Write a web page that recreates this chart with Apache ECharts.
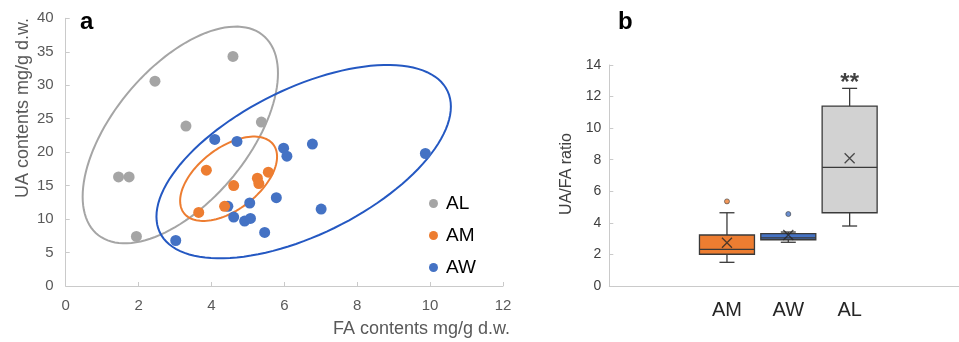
<!DOCTYPE html>
<html>
<head>
<meta charset="utf-8">
<script src="https://cdn.jsdelivr.net/npm/echarts@6/dist/echarts.min.js"></script>
<style>
	html, body { margin: 0; padding: 0; background: #fff; }
	#chart { width: 959px; height: 342px; }
</style>
</head>
<body>
<div id="chart"></div>
<script>
// a: FA / UA contents per group (x = FA, y = UA)
var alPoints = [[4.59, 34.3], [2.45, 30.6], [3.30, 23.9], [5.37, 24.5], [1.45, 16.3], [1.74, 16.3], [1.94, 7.4]];
var amPoints = [[3.86, 17.3], [4.61, 15.0], [5.26, 16.1], [5.30, 15.3], [5.56, 17.0], [4.36, 11.9], [3.65, 11.0]];
var awPoints = [[4.09, 21.9], [4.70, 21.6], [5.98, 20.6], [6.07, 19.4], [6.77, 21.2], [9.87, 19.8], [5.78, 13.2],
	[7.01, 11.5], [5.05, 12.4], [4.45, 11.9], [4.61, 10.3], [4.91, 9.7], [5.07, 10.1], [5.46, 8.0], [3.02, 6.8]];

// ellipses: centre x, centre y, axis u (x, y), axis v (y only)
var alEllipse = [3.145, 22.57, 2.68, 9.22, 13.31];
var amEllipse = [4.47, 16.02, 1.33, 3.30, 5.37];
var awEllipse = [6.53, 18.58, 4.04, 8.22, 11.88];

// b: UA/FA ratio box plots
var boxCategories = ['AM', 'AW', 'AL'];
var boxValues = [ // min, Q1, median, Q3, max
	[1.50, 2.01, 2.32, 3.23, 4.64],
	[2.77, 2.93, 3.05, 3.32, 3.42],
	[3.80, 4.64, 7.52, 11.40, 12.52]
];
var boxMeans = [2.74, 3.23, 8.09];
var boxOutliers = [[0, 5.36], [1, 4.56]];
var starMark = [[2, 13.2]];

var cGray = '#A5A5A5', cOrange = '#ED7D31', cBlue = '#4472C4';
var boxFill = [cOrange, cBlue, '#D2D2D2'];
var outlierColor = [cOrange, cBlue];

function renderEllipse(params, api) {
	var cx = api.value(0), cy = api.value(1), ux = api.value(2), uy = api.value(3), vy = api.value(4);
	var pts = [];
	for (var i = 0; i < 120; i++) {
		var t = i / 120 * Math.PI * 2;
		pts.push(api.coord([cx + ux * Math.cos(t), cy + uy * Math.cos(t) + vy * Math.sin(t)]));
	}
	return {
		type: 'polygon',
		shape: { points: pts },
		style: { fill: 'none', stroke: api.visual('color'), lineWidth: 2 }
	};
}

function renderBox(params, api) {
	var idx = api.value(0);
	var lo = api.coord([idx, api.value(1)]);
	var q1 = api.coord([idx, api.value(2)]);
	var md = api.coord([idx, api.value(3)]);
	var q3 = api.coord([idx, api.value(4)]);
	var hi = api.coord([idx, api.value(5)]);
	var x = lo[0], hw = 27.5, cw = 7.5;
	var line = { stroke: '#3a3a3a', lineWidth: 1.3 };
	return {
		type: 'group',
		children: [
			{ type: 'line', shape: { x1: x, y1: hi[1], x2: x, y2: q3[1] }, style: line },
			{ type: 'line', shape: { x1: x, y1: lo[1], x2: x, y2: q1[1] }, style: line },
			{ type: 'line', shape: { x1: x - cw, y1: hi[1], x2: x + cw, y2: hi[1] }, style: line },
			{ type: 'line', shape: { x1: x - cw, y1: lo[1], x2: x + cw, y2: lo[1] }, style: line },
			{ type: 'rect', shape: { x: x - hw, y: q3[1], width: hw * 2, height: q1[1] - q3[1] },
				style: { fill: boxFill[idx], stroke: '#3a3a3a', lineWidth: 1.3 } },
			{ type: 'line', shape: { x1: x - hw, y1: md[1], x2: x + hw, y2: md[1] }, style: line }
		]
	};
}

var boxData = [];
for (var i = 0; i < boxValues.length; i++) {
	boxData.push([i].concat(boxValues[i]));
}
var meanData = [];
for (var j = 0; j < boxMeans.length; j++) {
	meanData.push([j, boxMeans[j]]);
}

var axisGray = '#CACACA';
var chart = echarts.init(document.getElementById('chart'));
chart.setOption({
	animation: false,
	textStyle: { fontFamily: 'Liberation Sans, Arial, sans-serif' },
	grid: [
		{ left: 65.7, width: 437.3, top: 18.3, bottom: 56 },
		{ left: 609.3, right: 0, top: 65, bottom: 56 },
		{ left: 696.3, width: 184, top: 65, bottom: 56 }
	],
	xAxis: [{
		gridIndex: 0, type: 'value', min: 0, max: 12, interval: 2,
		axisLine: { lineStyle: { color: axisGray } },
		axisTick: { inside: true, length: 4, lineStyle: { color: axisGray } },
		axisLabel: { fontSize: 15, color: '#595959', margin: 12 },
		splitLine: { show: false }
	}, {
		gridIndex: 1, type: 'value', min: 0, max: 1,
		axisLine: { lineStyle: { color: axisGray } },
		axisTick: { show: false }, axisLabel: { show: false }, splitLine: { show: false }
	}, {
		gridIndex: 2, type: 'category', data: boxCategories,
		axisLine: { show: false }, axisTick: { show: false },
		axisLabel: { fontSize: 20, color: '#262626', margin: 14 }
	}],
	yAxis: [{
		gridIndex: 0, type: 'value', min: 0, max: 40, interval: 5,
		axisLine: { show: true, lineStyle: { color: axisGray } },
		axisTick: { show: true, inside: true, length: 4, lineStyle: { color: axisGray } },
		axisLabel: { fontSize: 15, color: '#595959', margin: 12 },
		splitLine: { show: false }
	}, {
		gridIndex: 1, type: 'value', min: 0, max: 14, interval: 2,
		axisLine: { show: true, lineStyle: { color: axisGray } },
		axisTick: { show: true, inside: true, length: 4, lineStyle: { color: axisGray } },
		axisLabel: { fontSize: 14, color: '#404040', margin: 8 },
		splitLine: { show: false }
	}, {
		gridIndex: 2, type: 'value', min: 0, max: 14, show: false
	}],
	legend: {
		data: ['AL', 'AM', 'AW'],
		orient: 'vertical', left: 424, top: 188,
		icon: 'circle', itemWidth: 9, itemHeight: 9, itemGap: 11,
		textStyle: { fontSize: 19, color: '#000', lineHeight: 21, padding: [0, 0, 0, 3] }
	},
	graphic: [
		{ type: 'text', left: 80, top: 10, style: { text: 'a', font: 'bold 24px Liberation Sans, Arial', fill: '#000' } },
		{ type: 'text', left: 618, top: 10, style: { text: 'b', font: 'bold 24px Liberation Sans, Arial', fill: '#000' } },
		{ type: 'text', x: 23, y: 108, rotation: Math.PI / 2,
			style: { text: 'UA contents mg/g d.w.', font: '18px Liberation Sans, Arial', fill: '#595959', align: 'center', verticalAlign: 'middle' } },
		{ type: 'text', x: 510, y: 329,
			style: { text: 'FA contents mg/g d.w.', font: '18px Liberation Sans, Arial', fill: '#595959', align: 'right', verticalAlign: 'middle' } },
		{ type: 'text', x: 567, y: 174, rotation: Math.PI / 2,
			style: { text: 'UA/FA ratio', font: '16px Liberation Sans, Arial', fill: '#404040', align: 'center', verticalAlign: 'middle' } }
	],
	series: [{
		name: 'AW', type: 'scatter', xAxisIndex: 0, yAxisIndex: 0,
		symbolSize: 11, itemStyle: { color: cBlue, opacity: 1 }, data: awPoints
	}, {
		name: 'AM', type: 'scatter', xAxisIndex: 0, yAxisIndex: 0,
		symbolSize: 11, itemStyle: { color: cOrange, opacity: 1 }, data: amPoints
	}, {
		name: 'AL', type: 'scatter', xAxisIndex: 0, yAxisIndex: 0,
		symbolSize: 11, itemStyle: { color: cGray, opacity: 1 }, data: alPoints
	}, {
		type: 'custom', xAxisIndex: 0, yAxisIndex: 0, renderItem: renderEllipse,
		itemStyle: { color: cGray }, data: [alEllipse], silent: true
	}, {
		type: 'custom', xAxisIndex: 0, yAxisIndex: 0, renderItem: renderEllipse,
		itemStyle: { color: '#2458C2' }, data: [awEllipse], silent: true
	}, {
		type: 'custom', xAxisIndex: 0, yAxisIndex: 0, renderItem: renderEllipse,
		itemStyle: { color: cOrange }, data: [amEllipse], silent: true
	}, {
		type: 'custom', xAxisIndex: 2, yAxisIndex: 2, renderItem: renderBox,
		encode: { x: 0, y: [1, 2, 3, 4, 5] }, data: boxData
	}, {
		type: 'scatter', xAxisIndex: 2, yAxisIndex: 2,
		symbol: 'path://M0,0L10,10M10,0L0,10', symbolSize: 10,
		itemStyle: { color: 'none', borderColor: '#262626', borderWidth: 1.3 },
		data: meanData
	}, {
		type: 'scatter', xAxisIndex: 2, yAxisIndex: 2, symbolSize: 5,
		itemStyle: {
			color: function(p) { return outlierColor[p.dataIndex]; },
			borderColor: '#444', borderWidth: 0.8
		},
		data: boxOutliers
	}, {
		// significance mark above AL
		type: 'scatter', xAxisIndex: 2, yAxisIndex: 2, symbolSize: 1,
		itemStyle: { color: 'rgba(0,0,0,0)' },
		label: { show: true, position: 'inside', formatter: '**', fontSize: 24, fontWeight: 'bold', color: '#111', offset: [0, 6] },
		data: starMark
	}]
});
</script>
</body>
</html>
